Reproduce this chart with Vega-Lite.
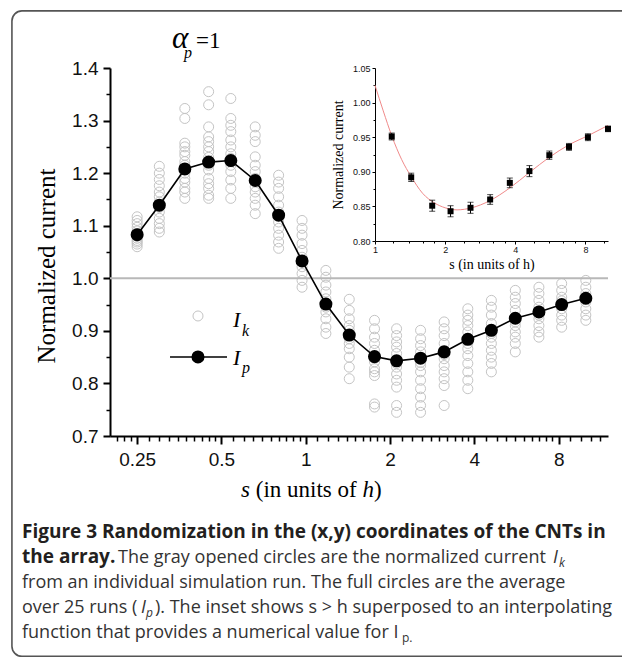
{
  "$schema": "https://vega.github.io/schema/vega-lite/v6.json",
  "width": 498,
  "height": 368,
  "autosize": {"type": "none"},
  "padding": {"left": 110, "top": 68, "right": 14, "bottom": 222},
  "background": "white",
  "config": {
    "view": {"stroke": null},
    "axis": {"grid": false, "labelFlush": false, "labelOverlap": false, "domainColor": "black", "tickColor": "black", "labelColor": "#111"}
  },
  "datasets": {
    "ik": [
      {"s":0.25,"I":1.117},{"s":0.25,"I":1.11},{"s":0.25,"I":1.104},{"s":0.25,"I":1.097},{"s":0.25,"I":1.09},{"s":0.25,"I":1.085},{"s":0.25,"I":1.08},{"s":0.25,"I":1.076},{"s":0.25,"I":1.072},{"s":0.25,"I":1.069},{"s":0.25,"I":1.065},{"s":0.25,"I":1.06},
      {"s":0.30,"I":1.213},{"s":0.30,"I":1.2},{"s":0.30,"I":1.188},{"s":0.30,"I":1.176},{"s":0.30,"I":1.164},{"s":0.30,"I":1.155},{"s":0.30,"I":1.145},{"s":0.30,"I":1.135},{"s":0.30,"I":1.126},{"s":0.30,"I":1.114},{"s":0.30,"I":1.104},{"s":0.30,"I":1.095},{"s":0.30,"I":1.088},
      {"s":0.37,"I":1.323},{"s":0.37,"I":1.304},{"s":0.37,"I":1.257},{"s":0.37,"I":1.25},{"s":0.37,"I":1.241},{"s":0.37,"I":1.234},{"s":0.37,"I":1.222},{"s":0.37,"I":1.215},{"s":0.37,"I":1.2},{"s":0.37,"I":1.19},{"s":0.37,"I":1.183},{"s":0.37,"I":1.171},{"s":0.37,"I":1.164},{"s":0.37,"I":1.152},
      {"s":0.45,"I":1.355},{"s":0.45,"I":1.33},{"s":0.45,"I":1.288},{"s":0.45,"I":1.269},{"s":0.45,"I":1.26},{"s":0.45,"I":1.25},{"s":0.45,"I":1.241},{"s":0.45,"I":1.23},{"s":0.45,"I":1.215},{"s":0.45,"I":1.206},{"s":0.45,"I":1.19},{"s":0.45,"I":1.18},{"s":0.45,"I":1.171},{"s":0.45,"I":1.158},{"s":0.45,"I":1.152},
      {"s":0.54,"I":1.342},{"s":0.54,"I":1.304},{"s":0.54,"I":1.291},{"s":0.54,"I":1.279},{"s":0.54,"I":1.263},{"s":0.54,"I":1.25},{"s":0.54,"I":1.237},{"s":0.54,"I":1.228},{"s":0.54,"I":1.215},{"s":0.54,"I":1.203},{"s":0.54,"I":1.187},{"s":0.54,"I":1.171},{"s":0.54,"I":1.152},
      {"s":0.66,"I":1.288},{"s":0.66,"I":1.272},{"s":0.66,"I":1.26},{"s":0.66,"I":1.231},{"s":0.66,"I":1.215},{"s":0.66,"I":1.203},{"s":0.66,"I":1.19},{"s":0.66,"I":1.174},{"s":0.66,"I":1.164},{"s":0.66,"I":1.152},{"s":0.66,"I":1.139},{"s":0.66,"I":1.123},
      {"s":0.80,"I":1.196},{"s":0.80,"I":1.183},{"s":0.80,"I":1.171},{"s":0.80,"I":1.155},{"s":0.80,"I":1.139},{"s":0.80,"I":1.126},{"s":0.80,"I":1.107},{"s":0.80,"I":1.095},{"s":0.80,"I":1.082},{"s":0.80,"I":1.069},{"s":0.80,"I":1.057},
      {"s":0.97,"I":1.11},{"s":0.97,"I":1.095},{"s":0.97,"I":1.082},{"s":0.97,"I":1.066},{"s":0.97,"I":1.053},{"s":0.97,"I":1.04},{"s":0.97,"I":1.022},{"s":0.97,"I":1.009},{"s":0.97,"I":0.996},{"s":0.97,"I":0.983},
      {"s":1.18,"I":1.015},{"s":1.18,"I":1.002},{"s":1.18,"I":0.987},{"s":1.18,"I":0.974},{"s":1.18,"I":0.961},{"s":1.18,"I":0.945},{"s":1.18,"I":0.936},{"s":1.18,"I":0.923},{"s":1.18,"I":0.907},{"s":1.18,"I":0.895},
      {"s":1.43,"I":0.96},{"s":1.43,"I":0.939},{"s":1.43,"I":0.923},{"s":1.43,"I":0.91},{"s":1.43,"I":0.901},{"s":1.43,"I":0.885},{"s":1.43,"I":0.876},{"s":1.43,"I":0.866},{"s":1.43,"I":0.85},{"s":1.43,"I":0.831},{"s":1.43,"I":0.809},
      {"s":1.76,"I":0.92},{"s":1.76,"I":0.904},{"s":1.76,"I":0.888},{"s":1.76,"I":0.876},{"s":1.76,"I":0.863},{"s":1.76,"I":0.848},{"s":1.76,"I":0.841},{"s":1.76,"I":0.828},{"s":1.76,"I":0.822},{"s":1.76,"I":0.815},{"s":1.76,"I":0.761},{"s":1.76,"I":0.755},
      {"s":2.11,"I":0.904},{"s":2.11,"I":0.891},{"s":2.11,"I":0.879},{"s":2.11,"I":0.869},{"s":2.11,"I":0.857},{"s":2.11,"I":0.838},{"s":2.11,"I":0.831},{"s":2.11,"I":0.818},{"s":2.11,"I":0.806},{"s":2.11,"I":0.793},{"s":2.11,"I":0.758},{"s":2.11,"I":0.745},
      {"s":2.57,"I":0.901},{"s":2.57,"I":0.885},{"s":2.57,"I":0.872},{"s":2.57,"I":0.86},{"s":2.57,"I":0.84},{"s":2.57,"I":0.834},{"s":2.57,"I":0.822},{"s":2.57,"I":0.806},{"s":2.57,"I":0.79},{"s":2.57,"I":0.774},{"s":2.57,"I":0.758},{"s":2.57,"I":0.745},
      {"s":3.12,"I":0.917},{"s":3.12,"I":0.904},{"s":3.12,"I":0.891},{"s":3.12,"I":0.876},{"s":3.12,"I":0.855},{"s":3.12,"I":0.847},{"s":3.12,"I":0.834},{"s":3.12,"I":0.822},{"s":3.12,"I":0.809},{"s":3.12,"I":0.796},{"s":3.12,"I":0.758},
      {"s":3.79,"I":0.942},{"s":3.79,"I":0.93},{"s":3.79,"I":0.92},{"s":3.79,"I":0.91},{"s":3.79,"I":0.898},{"s":3.79,"I":0.876},{"s":3.79,"I":0.866},{"s":3.79,"I":0.853},{"s":3.79,"I":0.838},{"s":3.79,"I":0.822},{"s":3.79,"I":0.806},{"s":3.79,"I":0.79},
      {"s":4.6,"I":0.958},{"s":4.6,"I":0.945},{"s":4.6,"I":0.93},{"s":4.6,"I":0.914},{"s":4.6,"I":0.895},{"s":4.6,"I":0.888},{"s":4.6,"I":0.876},{"s":4.6,"I":0.863},{"s":4.6,"I":0.85},{"s":4.6,"I":0.838},{"s":4.6,"I":0.822},
      {"s":5.6,"I":0.977},{"s":5.6,"I":0.964},{"s":5.6,"I":0.952},{"s":5.6,"I":0.939},{"s":5.6,"I":0.917},{"s":5.6,"I":0.91},{"s":5.6,"I":0.898},{"s":5.6,"I":0.888},{"s":5.6,"I":0.876},{"s":5.6,"I":0.86},
      {"s":6.8,"I":0.983},{"s":6.8,"I":0.971},{"s":6.8,"I":0.958},{"s":6.8,"I":0.945},{"s":6.8,"I":0.93},{"s":6.8,"I":0.923},{"s":6.8,"I":0.91},{"s":6.8,"I":0.898},{"s":6.8,"I":0.888},
      {"s":8.2,"I":0.99},{"s":8.2,"I":0.977},{"s":8.2,"I":0.964},{"s":8.2,"I":0.957},{"s":8.2,"I":0.942},{"s":8.2,"I":0.93},{"s":8.2,"I":0.92},{"s":8.2,"I":0.907},
      {"s":10.0,"I":0.996},{"s":10.0,"I":0.983},{"s":10.0,"I":0.971},{"s":10.0,"I":0.955},{"s":10.0,"I":0.942},{"s":10.0,"I":0.93},{"s":10.0,"I":0.92}
    ],
    "ip": [
      {"s":0.25,"I":1.083},{"s":0.30,"I":1.139},{"s":0.37,"I":1.208},{"s":0.45,"I":1.221},{"s":0.54,"I":1.224},{"s":0.66,"I":1.186},{"s":0.80,"I":1.12},{"s":0.97,"I":1.033},{"s":1.18,"I":0.951},{"s":1.43,"I":0.892},{"s":1.76,"I":0.851},{"s":2.11,"I":0.843},{"s":2.57,"I":0.848},{"s":3.12,"I":0.86},{"s":3.79,"I":0.884},{"s":4.6,"I":0.901},{"s":5.6,"I":0.924},{"s":6.8,"I":0.936},{"s":8.2,"I":0.95},{"s":10.0,"I":0.962}
    ],
    "inset": [
      {"s":1.18,"I":0.951,"lo":0.946,"hi":0.956},{"s":1.43,"I":0.892,"lo":0.886,"hi":0.898},{"s":1.76,"I":0.851,"lo":0.843,"hi":0.859},{"s":2.11,"I":0.843,"lo":0.835,"hi":0.851},{"s":2.57,"I":0.848,"lo":0.84,"hi":0.856},{"s":3.12,"I":0.86,"lo":0.853,"hi":0.867},{"s":3.79,"I":0.884,"lo":0.877,"hi":0.891},{"s":4.6,"I":0.901,"lo":0.893,"hi":0.909},{"s":5.6,"I":0.924,"lo":0.918,"hi":0.93},{"s":6.8,"I":0.936,"lo":0.931,"hi":0.941},{"s":8.2,"I":0.95,"lo":0.945,"hi":0.955},{"s":10.0,"I":0.962,"lo":0.958,"hi":0.966}
    ],
    "curve": [
      {"s":1.0,"I":1.025},{"s":1.085,"I":0.988},{"s":1.18,"I":0.952},{"s":1.3,"I":0.918},{"s":1.43,"I":0.893},{"s":1.6,"I":0.869},{"s":1.8,"I":0.855},{"s":2.0,"I":0.848},{"s":2.25,"I":0.845},{"s":2.6,"I":0.848},{"s":3.1,"I":0.858},{"s":3.8,"I":0.877},{"s":4.6,"I":0.899},{"s":5.6,"I":0.921},{"s":6.8,"I":0.939},{"s":8.3,"I":0.953},{"s":10.0,"I":0.967}
    ]
  },
  "layer": [
    {
      "encoding": {
        "x": {"type": "quantitative", "scale": {"type": "log", "base": 2, "domain": [0.2, 12], "nice": false}},
        "y": {"type": "quantitative", "scale": {"domain": [0.7, 1.4], "nice": false, "zero": false}}
      },
      "layer": [
        {
          "data": {"name": "ik"},
          "mark": {"type": "point", "shape": "circle", "filled": false, "stroke": "#c4c4c4", "strokeWidth": 1, "size": 100, "opacity": 1},
          "encoding": {
            "x": {"field": "s", "type": "quantitative", "axis": {"orient": "bottom", "values": [0.25, 0.5, 1, 2, 4, 8], "format": "~g", "title": null, "tickSize": 8, "tickWidth": 2, "domainWidth": 2, "labelFont": "Liberation Sans", "labelFontSize": 19, "labelPadding": 6}},
            "y": {"field": "I", "type": "quantitative", "axis": {"orient": "left", "values": [0.7, 0.8, 0.9, 1.0, 1.1, 1.2, 1.3, 1.4], "format": ".1f", "title": null, "tickSize": 7, "tickWidth": 2, "domainWidth": 2, "labelFont": "Liberation Sans", "labelFontSize": 19, "labelPadding": 5}}
          }
        },
        {
          "data": {"values": [{}]},
          "mark": {"type": "rule", "color": "#b8b8b8", "strokeWidth": 2},
          "encoding": {"y": {"datum": 1.0}}
        },
        {
          "data": {"name": "ip"},
          "mark": {"type": "line", "color": "black", "strokeWidth": 1.6},
          "encoding": {"x": {"field": "s", "type": "quantitative"}, "y": {"field": "I", "type": "quantitative"}}
        },
        {
          "data": {"name": "ip"},
          "mark": {"type": "point", "shape": "circle", "filled": true, "color": "black", "size": 170, "opacity": 1},
          "encoding": {"x": {"field": "s", "type": "quantitative"}, "y": {"field": "I", "type": "quantitative"}}
        },
        {
          "data": {"values": [{}]},
          "mark": {"type": "point", "shape": "circle", "filled": false, "stroke": "#c4c4c4", "strokeWidth": 1, "size": 100, "opacity": 1},
          "encoding": {"x": {"datum": 0.4123}, "y": {"datum": 0.9283}}
        },
        {
          "data": {"values": [{}]},
          "mark": {"type": "rule", "color": "black", "strokeWidth": 1.6},
          "encoding": {"x": {"datum": 0.3276}, "x2": {"datum": 0.5234}, "y": {"datum": 0.8503}}
        },
        {
          "data": {"values": [{}]},
          "mark": {"type": "point", "shape": "circle", "filled": true, "color": "black", "size": 170, "opacity": 1},
          "encoding": {"x": {"datum": 0.4123}, "y": {"datum": 0.8503}}
        },
        {
          "data": {"values": [{}]},
          "mark": {"type": "text", "text": "I", "font": "Liberation Serif", "fontStyle": "italic", "fontSize": 22, "align": "left", "baseline": "alphabetic", "color": "black"},
          "encoding": {"x": {"datum": 0.5498}, "y": {"datum": 0.9073}}
        },
        {
          "data": {"values": [{}]},
          "mark": {"type": "text", "text": "k", "font": "Liberation Serif", "fontStyle": "italic", "fontSize": 16, "align": "left", "baseline": "alphabetic", "color": "black"},
          "encoding": {"x": {"datum": 0.592}, "y": {"datum": 0.8902}}
        },
        {
          "data": {"values": [{}]},
          "mark": {"type": "text", "text": "I", "font": "Liberation Serif", "fontStyle": "italic", "fontSize": 22, "align": "left", "baseline": "alphabetic", "color": "black"},
          "encoding": {"x": {"datum": 0.5498}, "y": {"datum": 0.8351}}
        },
        {
          "data": {"values": [{}]},
          "mark": {"type": "text", "text": "p", "font": "Liberation Serif", "fontStyle": "italic", "fontSize": 16, "align": "left", "baseline": "alphabetic", "color": "black"},
          "encoding": {"x": {"datum": 0.592}, "y": {"datum": 0.8198}}
        },
        {
          "data": {"values": [{}]},
          "mark": {"type": "text", "text": "α", "font": "Liberation Serif", "fontStyle": "italic", "fontSize": 31, "align": "left", "baseline": "alphabetic", "color": "black"},
          "encoding": {"x": {"datum": 0.333}, "y": {"datum": 1.438}}
        },
        {
          "data": {"values": [{}]},
          "mark": {"type": "text", "text": "p", "font": "Liberation Serif", "fontStyle": "italic", "fontSize": 16, "align": "left", "baseline": "alphabetic", "color": "black"},
          "encoding": {"x": {"datum": 0.3675}, "y": {"datum": 1.419}}
        },
        {
          "data": {"values": [{}]},
          "mark": {"type": "text", "text": "=1", "font": "Liberation Serif", "fontSize": 23, "align": "left", "baseline": "alphabetic", "color": "black"},
          "encoding": {"x": {"datum": 0.4056}, "y": {"datum": 1.438}}
        },
        {
          "data": {"values": [{}]},
          "mark": {"type": "text", "text": "Normalized current", "font": "Liberation Serif", "fontSize": 25, "angle": 270, "align": "center", "baseline": "alphabetic", "color": "black"},
          "encoding": {"x": {"datum": 0.1273}, "y": {"datum": 1.0234}}
        },
        {
          "data": {"values": [{}]},
          "mark": {"type": "text", "text": "s", "font": "Liberation Serif", "fontStyle": "italic", "fontSize": 23, "align": "left", "baseline": "alphabetic", "color": "black"},
          "encoding": {"x": {"datum": 0.5872}, "y": {"datum": 0.584}}
        },
        {
          "data": {"values": [{}]},
          "mark": {"type": "text", "text": "(in units of", "font": "Liberation Serif", "fontSize": 23, "align": "left", "baseline": "alphabetic", "color": "black"},
          "encoding": {"x": {"datum": 0.663}, "y": {"datum": 0.584}}
        },
        {
          "data": {"values": [{}]},
          "mark": {"type": "text", "text": "h", "font": "Liberation Serif", "fontStyle": "italic", "fontSize": 23, "align": "left", "baseline": "alphabetic", "color": "black"},
          "encoding": {"x": {"datum": 1.594}, "y": {"datum": 0.584}}
        },
        {
          "data": {"values": [{}]},
          "mark": {"type": "text", "text": ")", "font": "Liberation Serif", "fontSize": 23, "align": "left", "baseline": "alphabetic", "color": "black"},
          "encoding": {"x": {"datum": 1.752}, "y": {"datum": 0.584}}
        },
        {
          "data": {"values": [{}]},
          "mark": {"type": "text", "text": "Figure 3 Randomization in the (x,y) coordinates of the CNTs in", "font": "Open Sans", "fontWeight": "bold", "fontSize": 19, "align": "left", "baseline": "alphabetic", "color": "#231f20"},
          "encoding": {"x": {"datum": 0.09702}, "y": {"datum": 0.506}}
        },
        {
          "data": {"values": [{}]},
          "mark": {"type": "text", "text": "the array.", "font": "Open Sans", "fontWeight": "bold", "fontSize": 19, "align": "left", "baseline": "alphabetic", "color": "#231f20"},
          "encoding": {"x": {"datum": 0.09702}, "y": {"datum": 0.4584}}
        },
        {
          "data": {"values": [{}]},
          "mark": {"type": "text", "text": "The gray opened circles are the normalized current", "font": "Open Sans", "fontSize": 18, "align": "left", "baseline": "alphabetic", "color": "#333"},
          "encoding": {"x": {"datum": 0.2136}, "y": {"datum": 0.4584}}
        },
        {
          "data": {"values": [{}]},
          "mark": {"type": "text", "text": "I", "font": "Open Sans", "fontStyle": "italic", "fontSize": 18, "align": "left", "baseline": "alphabetic", "color": "#333"},
          "encoding": {"x": {"datum": 7.63}, "y": {"datum": 0.4584}}
        },
        {
          "data": {"values": [{}]},
          "mark": {"type": "text", "text": "k", "font": "Open Sans", "fontStyle": "italic", "fontSize": 12, "align": "left", "baseline": "alphabetic", "color": "#333"},
          "encoding": {"x": {"datum": 8.02}, "y": {"datum": 0.451}}
        },
        {
          "data": {"values": [{}]},
          "mark": {"type": "text", "text": "from an individual simulation run. The full circles are the average", "font": "Open Sans", "fontSize": 18, "align": "left", "baseline": "alphabetic", "color": "#333"},
          "encoding": {"x": {"datum": 0.09702}, "y": {"datum": 0.4109}}
        },
        {
          "data": {"values": [{}]},
          "mark": {"type": "text", "text": "over 25 runs (", "font": "Open Sans", "fontSize": 18, "align": "left", "baseline": "alphabetic", "color": "#333"},
          "encoding": {"x": {"datum": 0.09702}, "y": {"datum": 0.3633}}
        },
        {
          "data": {"values": [{}]},
          "mark": {"type": "text", "text": "I", "font": "Open Sans", "fontStyle": "italic", "fontSize": 18, "align": "left", "baseline": "alphabetic", "color": "#333"},
          "encoding": {"x": {"datum": 0.2581}, "y": {"datum": 0.3633}}
        },
        {
          "data": {"values": [{}]},
          "mark": {"type": "text", "text": "p", "font": "Open Sans", "fontStyle": "italic", "fontSize": 12, "align": "left", "baseline": "alphabetic", "color": "#333"},
          "encoding": {"x": {"datum": 0.2689}, "y": {"datum": 0.356}}
        },
        {
          "data": {"values": [{}]},
          "mark": {"type": "text", "text": "). The inset shows s > h superposed to an interpolating", "font": "Open Sans", "fontSize": 18, "align": "left", "baseline": "alphabetic", "color": "#333"},
          "encoding": {"x": {"datum": 0.2895}, "y": {"datum": 0.3633}}
        },
        {
          "data": {"values": [{}]},
          "mark": {"type": "text", "text": "function that provides a numerical value for I", "font": "Open Sans", "fontSize": 18, "align": "left", "baseline": "alphabetic", "color": "#333"},
          "encoding": {"x": {"datum": 0.09702}, "y": {"datum": 0.3158}}
        },
        {
          "data": {"values": [{}]},
          "mark": {"type": "text", "text": "p.", "font": "Open Sans", "fontSize": 12, "align": "left", "baseline": "alphabetic", "color": "#333"},
          "encoding": {"x": {"datum": 2.206}, "y": {"datum": 0.3085}}
        },
        {
          "data": {"values": [{}]},
          "mark": {"type": "rect", "filled": false, "stroke": "#555555", "strokeWidth": 1.6, "cornerRadius": 10},
          "encoding": {"x": {"datum": 0.0893}, "x2": {"datum": 16}, "y": {"datum": 1.5086}, "y2": {"datum": 0.281}}
        }
      ]
    },
    {
      "data": {"name": "ip"},
      "mark": {"type": "point", "opacity": 0},
      "encoding": {
        "x": {"field": "s", "type": "quantitative", "scale": {"type": "log", "base": 2, "domain": [0.2, 12], "nice": false}, "axis": {"orient": "bottom", "values": [0.2125, 0.225, 0.2375, 0.275, 0.3, 0.325, 0.35, 0.375, 0.4, 0.425, 0.45, 0.475, 0.55, 0.6, 0.65, 0.7, 0.75, 0.8, 0.85, 0.9, 0.95, 1.1, 1.2, 1.3, 1.4, 1.5, 1.6, 1.7, 1.8, 1.9, 2.2, 2.4, 2.6, 2.8, 3, 3.2, 3.4, 3.6, 3.8, 4.4, 4.8, 5.2, 5.6, 6, 6.4, 6.8, 7.2, 7.6, 8.8, 9.6, 10.4, 11.2], "labels": false, "domain": false, "title": null, "tickSize": 5, "tickWidth": 1.5}},
        "y": {"field": "I", "type": "quantitative", "scale": {"domain": [0.7, 1.4], "nice": false, "zero": false}, "axis": {"orient": "left", "values": [0.75, 0.85, 0.95, 1.05, 1.15, 1.25, 1.35], "labels": false, "domain": false, "title": null, "tickSize": 4, "tickWidth": 1.5}}
      }
    },
    {
      "encoding": {
        "x": {"type": "quantitative", "scale": {"type": "log", "base": 2, "domain": [1, 10], "nice": false, "range": [265, 498]}},
        "y": {"type": "quantitative", "scale": {"domain": [0.8, 1.05], "nice": false, "zero": false, "range": [173, 0]}}
      },
      "layer": [
        {
          "data": {"name": "curve"},
          "mark": {"type": "line", "color": "#f08a8a", "strokeWidth": 1, "interpolate": "monotone"},
          "encoding": {
            "x": {"field": "s", "type": "quantitative", "title": "s (in units of h)", "axis": {"orient": "bottom", "offset": -195, "values": [1, 2, 4, 8], "format": "~g", "title": "s (in units of h)", "titleFont": "Liberation Serif", "titleFontSize": 14, "titleFontWeight": "normal", "titleColor": "black", "titlePadding": 3, "labelFont": "Liberation Sans", "labelFontSize": 9, "labelPadding": 1, "tickSize": 3, "domainWidth": 1}},
            "y": {"field": "I", "type": "quantitative", "title": "Normalized current", "axis": {"orient": "left", "offset": -265, "values": [0.8, 0.85, 0.9, 0.95, 1.0, 1.05], "format": ".2f", "title": "Normalized current", "titleFont": "Liberation Serif", "titleFontSize": 14, "titleFontWeight": "normal", "titleColor": "black", "titlePadding": 7, "labelFont": "Liberation Sans", "labelFontSize": 9, "labelPadding": 2, "tickSize": 3, "domainWidth": 1}}
          }
        },
        {
          "data": {"name": "inset"},
          "mark": {"type": "errorbar", "ticks": {"size": 6, "color": "black", "thickness": 1}, "rule": {"color": "black", "strokeWidth": 1}},
          "encoding": {"x": {"field": "s", "type": "quantitative", "title": "s (in units of h)"}, "y": {"field": "lo", "type": "quantitative", "title": "Normalized current"}, "y2": {"field": "hi"}}
        },
        {
          "data": {"name": "inset"},
          "mark": {"type": "point", "shape": "square", "filled": true, "color": "black", "size": 36, "opacity": 1},
          "encoding": {"x": {"field": "s", "type": "quantitative", "title": "s (in units of h)"}, "y": {"field": "I", "type": "quantitative", "title": "Normalized current"}}
        }
      ]
    },
    {
      "data": {"name": "inset"},
      "mark": {"type": "point", "opacity": 0},
      "encoding": {
        "x": {"field": "s", "type": "quantitative", "scale": {"type": "log", "base": 2, "domain": [1, 10], "nice": false, "range": [265, 498]}, "axis": {"orient": "bottom", "offset": -195, "values": [1.2, 1.4, 1.6, 1.8, 2.4, 2.8, 3.2, 3.6, 4.8, 5.6, 6.4, 7.2, 9.6], "labels": false, "domain": false, "title": null, "tickSize": 2}},
        "y": {"field": "I", "type": "quantitative", "scale": {"domain": [0.8, 1.05], "nice": false, "zero": false, "range": [173, 0]}, "axis": {"orient": "left", "offset": -265, "values": [0.825, 0.875, 0.925, 0.975, 1.025], "labels": false, "domain": false, "title": null, "tickSize": 2}}
      }
    }
  ],
  "resolve": {"scale": {"x": "independent", "y": "independent"}, "axis": {"x": "independent", "y": "independent"}}
}
